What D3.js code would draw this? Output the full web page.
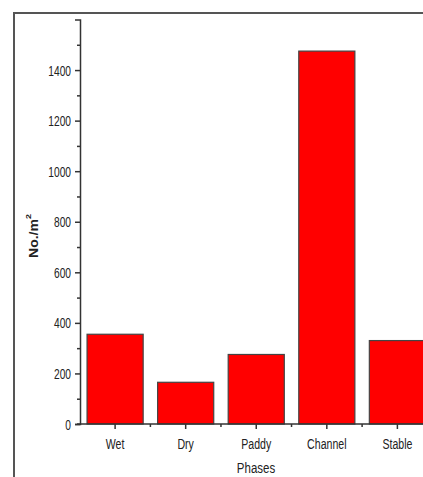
<!DOCTYPE html>
<html>
<head>
<meta charset="utf-8">
<script src="https://cdn.jsdelivr.net/npm/d3@7"></script>
<style>
  html, body { margin: 0; padding: 0; background: #fff; }
  svg { display: block; }
  text { font-family: "Liberation Sans", Arial, sans-serif; fill: #222; }
</style>
</head>
<body>
<svg id="chart" width="423" height="477"></svg>
<script>
const categories = ["Wet", "Dry", "Paddy", "Channel", "Stable"];
const values = [355, 165, 275, 1475, 330];
const yTicks = [0, 200, 400, 600, 800, 1000, 1200, 1400];
const yMinorTicks = [100, 300, 500, 700, 900, 1100, 1300, 1500];
const yDomain = [0, 1600];
const yLabel = "No./m";
const yLabelSup = "2";
const xLabel = "Phases";

const SX = 0.73; // horizontal compression of text in the reference
const svg = d3.select("#chart");

// outer frame (cut off at the right and bottom)
svg.append("rect")
  .attr("x", 14).attr("y", 13)
  .attr("width", 440).attr("height", 500)
  .attr("fill", "none").attr("stroke", "#555").attr("stroke-width", 2);

const x = d3.scaleBand().domain(categories).range([80, 432.5])
  .paddingInner(0.205).paddingOuter(0.1);
const y = d3.scaleLinear().domain(yDomain).range([424, 19.5]);

// bars
svg.append("g").selectAll("rect").data(categories).join("rect")
  .attr("x", d => x(d))
  .attr("y", (d, i) => y(values[i]))
  .attr("width", x.bandwidth())
  .attr("height", (d, i) => y(0) - y(values[i]))
  .attr("fill", "#ff0000")
  .attr("stroke", "#444")
  .attr("stroke-width", 1.2);

// y axis
const gy = svg.append("g").attr("transform", "translate(80,0)");
gy.call(d3.axisLeft(y).tickValues(yTicks).tickSize(5).tickPadding(4).tickFormat(d3.format("d")));
const gyMinor = svg.append("g").attr("transform", "translate(80,0)");
gyMinor.call(d3.axisLeft(y).tickValues(yMinorTicks).tickSize(3).tickFormat(""));
gyMinor.select(".domain").remove();
[gy, gyMinor].forEach(g => {
  g.select(".domain").attr("stroke", "#333").attr("stroke-width", 1.5);
  g.selectAll(".tick line").attr("stroke", "#333").attr("stroke-width", 1.5);
});
gy.selectAll(".tick text")
  .attr("font-size", 14)
  .attr("x", -9 / SX)
  .attr("dy", "0.36em")
  .attr("transform", `scale(${SX},1)`)
  .style("fill", "#222");

// x axis
const gx = svg.append("g").attr("transform", "translate(0,424)");
gx.call(d3.axisBottom(x).tickSize(5).tickPadding(6).tickSizeOuter(0));
gx.select(".domain").attr("d", "M77,0H432").attr("stroke", "#333").attr("stroke-width", 1.5);
gx.selectAll(".tick line").attr("stroke", "#333").attr("stroke-width", 1.5);
gx.selectAll(".tick text")
  .attr("font-size", 14.5)
  .attr("x", 0)
  .attr("y", 15)
  .attr("dy", "0.71em")
  .attr("transform", `scale(${SX},1)`)
  .style("fill", "#222");
// minor x ticks at band boundaries
const bounds = categories.slice(1).map(c => x(c) - (x.step() - x.bandwidth()) / 2);
gx.selectAll(".minor").data(bounds).join("line")
  .attr("class", "minor")
  .attr("x1", d => d).attr("x2", d => d)
  .attr("y1", 0).attr("y2", 3)
  .attr("stroke", "#333").attr("stroke-width", 1.5);

// y label
const yl = svg.append("text")
  .attr("transform", `translate(38,236) scale(0.85,1) rotate(-90)`)
  .attr("text-anchor", "middle")
  .attr("font-size", 14)
  .attr("font-weight", "bold");
yl.append("tspan").text(yLabel);
yl.append("tspan").attr("font-size", 9).attr("dy", "-0.9em").text(yLabelSup);

// x label
svg.append("text")
  .attr("transform", `translate(256,473) scale(0.82,1)`)
  .attr("text-anchor", "middle")
  .attr("font-size", 14)
  .text(xLabel);
</script>
</body>
</html>
